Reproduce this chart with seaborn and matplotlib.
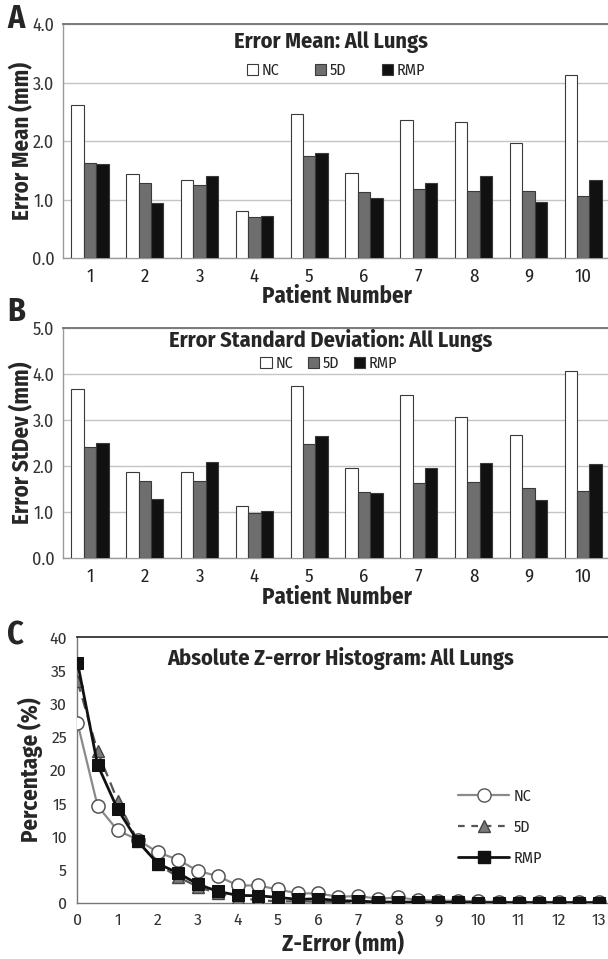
import numpy as np
import pandas as pd
import seaborn as sns
import matplotlib
matplotlib.use("Agg")
import matplotlib.pyplot as plt
from matplotlib.patches import Patch
from matplotlib.lines import Line2D

sns.set_style("white")
plt.rcParams['font.family'] = ['Fira Sans Condensed', 'DejaVu Sans']

# ---------------- data ----------------
patients = ["1", "2", "3", "4", "5", "6", "7", "8", "9", "10"]
methods = ["NC", "5D", "RMP"]

mean_nc = [2.61, 1.43, 1.34, 0.80, 2.46, 1.46, 2.36, 2.32, 1.96, 3.12]
mean_5d = [1.63, 1.29, 1.24, 0.70, 1.75, 1.12, 1.18, 1.14, 1.14, 1.06]
mean_rmp = [1.61, 0.94, 1.40, 0.71, 1.79, 1.02, 1.29, 1.41, 0.95, 1.33]

sd_nc = [3.67, 1.87, 1.87, 1.12, 3.74, 1.94, 3.53, 3.05, 2.66, 4.06]
sd_5d = [2.41, 1.66, 1.66, 0.98, 2.48, 1.43, 1.63, 1.64, 1.52, 1.46]
sd_rmp = [2.49, 1.28, 2.09, 1.01, 2.65, 1.40, 1.96, 2.05, 1.26, 2.04]

z_err = [0, 0.5, 1, 1.5, 2, 2.5, 3, 3.5, 4, 4.5, 5, 5.5, 6, 6.5, 7, 7.5, 8,
         8.5, 9, 9.5, 10, 10.5, 11, 11.5, 12, 12.5, 13]
hist_nc = [27.1, 14.6, 10.9, 9.5, 7.6, 6.5, 4.8, 4.0, 2.6, 2.6, 2.0, 1.4, 1.4,
           0.9, 1.0, 0.6, 0.8, 0.4, 0.3, 0.3, 0.2, 0.1, 0.1, 0.1, 0.1, 0.05, 0.05]
hist_5d = [33.4, 22.8, 15.4, 9.3, 5.8, 3.9, 2.4, 1.4, 0.7, 0.4, 0.2, 0.2, 0.15,
           0.1, 0.1, 0.05, 0.05, 0.05, 0.0, 0.0, 0.0, 0.0, 0.0, 0.0, 0.0, 0.0, 0.0]
hist_rmp = [36.2, 20.8, 14.1, 9.3, 5.9, 4.5, 2.8, 1.7, 1.1, 1.05, 0.8, 0.5, 0.6,
            0.3, 0.25, 0.1, 0.1, 0.1, 0.05, 0.05, 0.0, 0.0, 0.0, 0.0, 0.0, 0.0, 0.0]

bar_colors = {"NC": "#ffffff", "5D": "#6e6e6e", "RMP": "#111111"}

fig = plt.figure(figsize=(6.08, 9.59), dpi=100)


def bar_panel(rect_px, nc, d5, rmp, ymax, title, ylabel, letter, letter_y, title_y,
              leg_y, leg_x, colsp, xlabel_y):
    left, top, width, bottom = rect_px
    height = bottom - top
    ax = fig.add_axes([left / 608, 1 - bottom / 959, width / 608, height / 959])
    df = pd.DataFrame({
        "Patient": patients * 3,
        "Method": ["NC"] * 10 + ["5D"] * 10 + ["RMP"] * 10,
        "Value": nc + d5 + rmp,
    })
    sns.barplot(data=df, x="Patient", y="Value", hue="Method", order=patients,
                hue_order=methods, palette=bar_colors, width=0.68, gap=0.0,
                edgecolor="#3a3a3a", linewidth=0.8, saturation=1, ax=ax,
                legend=False, zorder=3)
    ax.set_xlim(-0.5, 9.5)
    ax.set_ylim(0, ymax)
    ticks = np.arange(0, ymax + 0.01, 1.0)
    ax.set_yticks(ticks)
    ax.set_yticklabels([f"{v:.1f}" for v in ticks])
    ax.yaxis.grid(True, color="#c4c4c4", linewidth=1.0, zorder=0)
    ax.set_axisbelow(True)
    for s in ["left", "bottom"]:
        ax.spines[s].set_color("#9a9a9a")
        ax.spines[s].set_linewidth(1.0)
    ax.spines["top"].set_color("#7a7a7a")
    ax.spines["top"].set_linewidth(1.4)
    ax.spines["right"].set_visible(False)
    ax.set_xticks(np.arange(-0.5, 10, 1.0), minor=True)
    ax.tick_params(axis="x", which="major", length=0, labelsize=13.5, pad=7,
                   colors="#222222")
    ax.tick_params(axis="x", which="minor", length=4, color="#9a9a9a",
                   direction="out")
    ax.tick_params(axis="y", which="major", length=4, labelsize=13, pad=2,
                   color="#9a9a9a", labelcolor="#333333")
    ax.set_xlabel("Patient Number", fontsize=16.5, fontweight="bold")
    ax.xaxis.label.set_va("center")
    ax.xaxis.set_label_coords(0.5, -(xlabel_y - bottom) / height)
    ax.set_ylabel(ylabel, fontsize=16.5, fontweight="bold")
    ax.yaxis.label.set_va("center")
    ax.yaxis.set_label_coords(-(left - 22) / width, 0.5)
    fig.text(331 / 608, 1 - title_y / 959, title, ha="center", va="center",
             fontsize=16, fontweight="bold")
    handles = [Patch(facecolor=bar_colors[m], edgecolor="#3a3a3a", linewidth=0.8,
                     label=m) for m in methods]
    fig.legend(handles=handles, loc="center",
               bbox_to_anchor=(leg_x / 608, 1 - leg_y / 959),
               ncol=3, frameon=False, fontsize=11.5, handlelength=0.7,
               handleheight=0.7, handletextpad=0.25, columnspacing=colsp,
               borderaxespad=0)
    fig.text(7 / 608, 1 - letter_y / 959, letter, fontsize=23, fontweight="bold",
             ha="left", va="center")
    return ax


axA = bar_panel((62.6, 24, 548, 258), mean_nc, mean_5d, mean_rmp, 4.0,
                "Error Mean: All Lungs", "Error Mean (mm)", "A", 19, 42, 70,
                336, 2.2, 296)
axB = bar_panel((62.6, 327.7, 548, 557.7), sd_nc, sd_5d, sd_rmp, 5.0,
                "Error Standard Deviation: All Lungs", "Error StDev (mm)", "B",
                312, 341, 363, 329, 0.9, 597)

# ---------------- panel C ----------------
axC = fig.add_axes([77.5 / 608, 1 - 902.7 / 959, 530.5 / 608, 265.4 / 959])
dfc = pd.DataFrame({"z": z_err, "NC": hist_nc, "5D": hist_5d, "RMP": hist_rmp})
sns.lineplot(data=dfc, x="z", y="NC", ax=axC, color="#8a8a8a", linewidth=1.6,
             marker="o", markersize=9.5, markerfacecolor="white",
             markeredgecolor="#555555", markeredgewidth=1.1, zorder=3)
sns.lineplot(data=dfc, x="z", y="5D", ax=axC, color="#555555", linewidth=1.6,
             linestyle=(0, (5, 3)), marker="^", markersize=9,
             markerfacecolor="#7a7a7a", markeredgecolor="#444444",
             markeredgewidth=1.0, zorder=4)
sns.lineplot(data=dfc, x="z", y="RMP", ax=axC, color="#111111", linewidth=2.0,
             marker="s", markersize=9, markerfacecolor="#111111",
             markeredgecolor="#111111", zorder=5)
axC.set_xlim(0, 13.23)
axC.set_ylim(0, 40)
axC.set_xticks(range(0, 14))
axC.set_yticks(range(0, 41, 5))
for s in ["left", "bottom"]:
    axC.spines[s].set_color("#777777")
    axC.spines[s].set_linewidth(1.0)
axC.spines["top"].set_color("#333333")
axC.spines["top"].set_linewidth(1.3)
axC.spines["right"].set_visible(False)
axC.tick_params(axis="both", length=4, color="#777777", labelsize=12.5,
                labelcolor="#333333")
axC.tick_params(axis="x", pad=3)
axC.set_xlabel("Z-Error (mm)", fontsize=16.5, fontweight="bold")
axC.xaxis.label.set_va("center")
axC.xaxis.set_label_coords(0.5, -(944 - 902.7) / 265.4)
axC.set_ylabel("Percentage (%)", fontsize=16.5, fontweight="bold")
axC.yaxis.label.set_va("center")
axC.yaxis.set_label_coords(-(77.5 - 30) / 530.5, 0.5)
fig.text(341 / 608, 1 - 659 / 959, "Absolute Z-error Histogram: All Lungs",
         ha="center", va="center", fontsize=16, fontweight="bold")
leg_handles = [
    Line2D([], [], color="#8a8a8a", linewidth=1.6, marker="o", markersize=9.5,
           markerfacecolor="white", markeredgecolor="#555555", label="NC"),
    Line2D([], [], color="#555555", linewidth=1.6, linestyle=(0, (3, 3)),
           marker="^", markersize=9, markerfacecolor="#7a7a7a",
           markeredgecolor="#444444", label="5D"),
    Line2D([], [], color="#111111", linewidth=2.0, marker="s", markersize=9,
           markerfacecolor="#111111", label="RMP"),
]
axC.legend(handles=leg_handles, loc="upper left",
           bbox_to_anchor=(458 / 608, 1 - 788 / 959),
           bbox_transform=fig.transFigure, frameon=False, fontsize=11.5,
           handlelength=3.2, handletextpad=0.3, labelspacing=0.95,
           borderaxespad=0, borderpad=0)
fig.text(7 / 608, 1 - 636 / 959, "C", fontsize=23, fontweight="bold",
         ha="left", va="center")

fig.savefig("out.png", dpi=100)
